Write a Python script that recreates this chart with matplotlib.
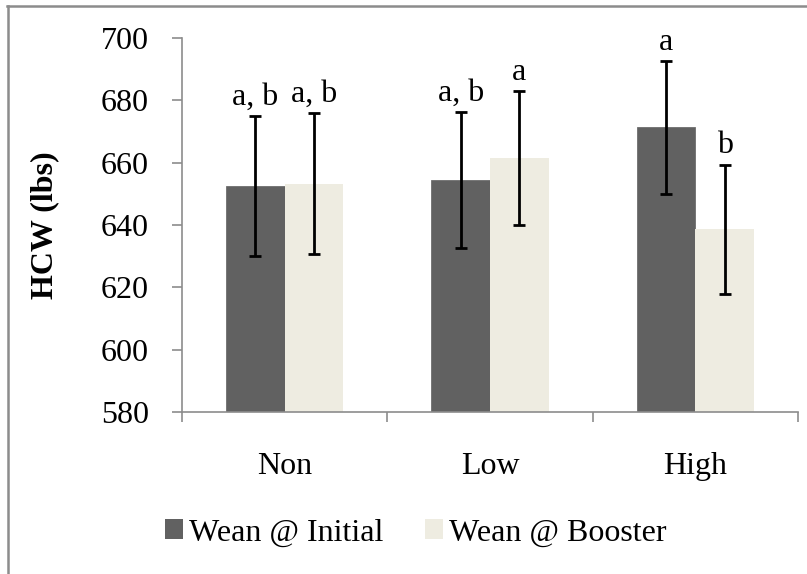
import matplotlib
matplotlib.use("Agg")
import matplotlib.pyplot as plt
import numpy as np
from matplotlib.patches import Patch
from matplotlib.lines import Line2D

# data
categories = ["Non", "Low", "High"]
series_names = ["Wean @ Initial", "Wean @ Booster"]
initial = [652.5, 654.5, 671.3]
booster = [653.3, 661.5, 638.6]
initial_err = [22.4, 21.9, 21.2]
booster_err = [22.5, 21.4, 20.8]
initial_letters = ["a, b", "a, b", "a"]
booster_letters = ["a, b", "a", "b"]
y_ticks = [580, 600, 620, 640, 660, 680, 700]

dark = "#616161"
light = "#EEECE1"
axis_gray = "#8c8c8c"

plt.rcParams["font.family"] = ["Liberation Serif", "DejaVu Serif"]

fig = plt.figure(figsize=(8.07, 5.74), dpi=100)
ax = fig.add_axes([182/807, 1-412/574, (798-182)/807, (412-38)/574])

x = np.arange(len(categories))
w = 0.285

ax.bar(x - w/2, np.array(initial) - 580, w, bottom=580, color=dark, edgecolor="#6e6e6e", linewidth=0.6)
ax.bar(x + w/2, np.array(booster) - 580, w, bottom=580, color=light, linewidth=0)

ax.errorbar(x - w/2, initial, yerr=initial_err, fmt="none", ecolor="black", elinewidth=2, capsize=4.5, capthick=2)
ax.errorbar(x + w/2, booster, yerr=booster_err, fmt="none", ecolor="black", elinewidth=2, capsize=4.5, capthick=2)

# significance letters above the error bars
for xi, v, e, t in zip(x - w/2, initial, initial_err, initial_letters):
    ax.annotate(t, (xi, v + e), xytext=(0, 8), textcoords="offset points",
                ha="center", va="baseline", fontsize=23)
for xi, v, e, t in zip(x + w/2, booster, booster_err, booster_letters):
    ax.annotate(t, (xi, v + e), xytext=(0, 8), textcoords="offset points",
                ha="center", va="baseline", fontsize=23)

ax.set_xlim(-0.5, len(categories) - 0.5)
ax.set_ylim(580, 700)
ax.set_yticks(y_ticks)
ax.set_xticks(x)
ax.set_xticklabels(categories)
ax.set_xticks(np.arange(len(categories) + 1) - 0.5, minor=True)

for s in ["top", "right"]:
    ax.spines[s].set_visible(False)
for s in ["left", "bottom"]:
    ax.spines[s].set_color(axis_gray)
    ax.spines[s].set_linewidth(1.2)

ax.tick_params(axis="y", direction="out", length=7, width=1.2, color=axis_gray, labelsize=23, pad=17)
ax.tick_params(axis="x", which="major", length=0, labelsize=23, pad=29)
ax.tick_params(axis="x", which="minor", direction="out", length=7, width=1.2, color=axis_gray)

fig.text(45/807, 1-225/574, "HCW (lbs)", rotation=90, ha="center", va="center",
         fontsize=23, fontweight="bold")

handles = [Patch(facecolor=dark), Patch(facecolor=light)]
fig.legend(handles, series_names, loc="center", bbox_to_anchor=(416/807, 1-533/574),
           ncol=2, frameon=False, fontsize=23, handlelength=0.55, handleheight=0.6,
           handletextpad=0.2, columnspacing=1.3)

# chart frame (top and left edges visible)
fig.add_artist(Line2D([7/807, 1], [1-6/574, 1-6/574], color=axis_gray, lw=1.8, transform=fig.transFigure))
fig.add_artist(Line2D([8/807, 8/807], [0, 1-6/574], color=axis_gray, lw=1.8, transform=fig.transFigure))

fig.savefig("out.png", dpi=100)
